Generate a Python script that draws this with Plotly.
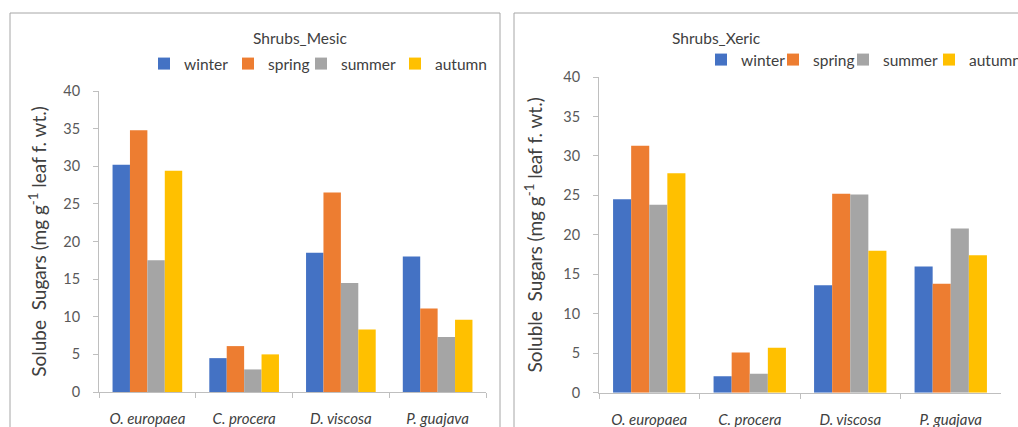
import plotly.graph_objects as go

species = ["O. europaea", "C. procera", "D. viscosa", "P. guajava"]
species_labels = ["<i>O. europaea</i>", "<i>C. procera</i>", "<i>D. viscosa</i>", "<i>P. guajava</i>"]
seasons = ["winter", "spring", "summer", "autumn"]
colors = ["#4472C4", "#ED7D31", "#A5A5A5", "#FFC000"]

mesic_winter = [30.2, 4.5, 18.5, 18.0]
mesic_spring = [34.8, 6.1, 26.5, 11.1]
mesic_summer = [17.5, 3.0, 14.5, 7.3]
mesic_autumn = [29.4, 5.0, 8.3, 9.6]

xeric_winter = [24.5, 2.1, 13.6, 16.0]
xeric_spring = [31.3, 5.1, 25.2, 13.8]
xeric_summer = [23.8, 2.4, 25.1, 20.8]
xeric_autumn = [27.8, 5.7, 18.0, 17.4]

mesic = [mesic_winter, mesic_spring, mesic_summer, mesic_autumn]
xeric = [xeric_winter, xeric_spring, xeric_summer, xeric_autumn]

FONT = "Lato"
W, H = 1018, 427

# legend square centres (px) for each panel's entries
mesic_leg_x = [171, 255, 328, 422]
xeric_leg_x = [728, 800, 870, 956]
mesic_leg_y = 64
xeric_leg_y = 60

fig = go.Figure()
legends = {}
k = 1
for panel, data, lx, ly, xa_, ya_ in [("m", mesic, mesic_leg_x, mesic_leg_y, "x", "y"),
                                      ("x", xeric, xeric_leg_x, xeric_leg_y, "x2", "y2")]:
    for s, c, vals, px in zip(seasons, colors, data, lx):
        lname = "legend" if k == 1 else f"legend{k}"
        fig.add_trace(go.Bar(x=species_labels, y=vals, name=s, marker=dict(color=c, line_width=0),
                             xaxis=xa_, yaxis=ya_, legend=lname))
        legends[lname] = dict(orientation="h", x=(px - 27) / W, y=1 - ly / H,
                              xanchor="left", yanchor="middle",
                              font=dict(family=FONT, size=15.5, color="#404040"), itemwidth=30,
                              bgcolor="rgba(0,0,0,0)", borderwidth=0)
        k += 1

axis_col = "#BFBFBF"

def xa(domain, anchor):
    return dict(domain=domain, anchor=anchor, showline=True, linecolor=axis_col, linewidth=1,
                ticks="outside", ticklen=5, tickcolor=axis_col, tickson="boundaries",
                ticklabelstandoff=13,
                tickfont=dict(family=FONT, size=15, color="#404040"), showgrid=False,
                fixedrange=True, automargin=False)

def ya(domain, anchor, title, standoff):
    return dict(domain=domain, anchor=anchor, range=[0, 40], dtick=5, showline=True,
                linecolor=axis_col, linewidth=1, ticks="outside", ticklen=5, tickcolor=axis_col,
                ticklabelstandoff=10,
                tickfont=dict(family=FONT, size=14.5, color="#595959"), showgrid=False,
                zeroline=False, fixedrange=True, automargin=False,
                title=dict(text=title, font=dict(family=FONT, size=19, color="#404040"),
                           standoff=standoff))

fig.update_layout(
    width=W, height=H,
    margin=dict(l=0, r=0, t=0, b=0, autoexpand=False),
    paper_bgcolor="white", plot_bgcolor="white",
    barmode="group", bargap=0.28, bargroupgap=0,
    xaxis=xa([99 / W, 486 / W], "y"),
    yaxis=ya([1 - 392 / H, 1 - 91 / H], "x", "Solube  Sugars (mg g<sup>-1</sup> leaf f. wt.)", 11),
    xaxis2=xa([599 / W, 1001 / W], "y2"),
    yaxis2=ya([1 - 392.7 / H, 1 - 77 / H], "x2", "Soluble  Sugars (mg g<sup>-1</sup> leaf f. wt.)", 15),
    showlegend=True,
    shapes=[
        dict(type="rect", xref="paper", yref="paper", x0=10 / W, x1=500 / W, y0=-0.05, y1=1 - 13 / H,
             line=dict(color="#A6A6A6", width=1)),
        dict(type="rect", xref="paper", yref="paper", x0=514 / W, x1=1.05, y0=-0.05, y1=1 - 13 / H,
             line=dict(color="#A6A6A6", width=1)),
    ],
    annotations=[
        dict(text="Shrubs_Mesic", x=251 / W, y=1 - 27 / H, xref="paper", yref="paper",
             showarrow=False, font=dict(family=FONT, size=15.5, color="#404040")),
        dict(text="Shrubs_Xeric", x=763 / W, y=1 - 27 / H, xref="paper", yref="paper",
             showarrow=False, font=dict(family=FONT, size=15.5, color="#404040")),
    ],
    **legends,
)

fig.write_html("out.html", config={"displayModeBar": False},
               post_script="document.body.style.margin='0px';")
